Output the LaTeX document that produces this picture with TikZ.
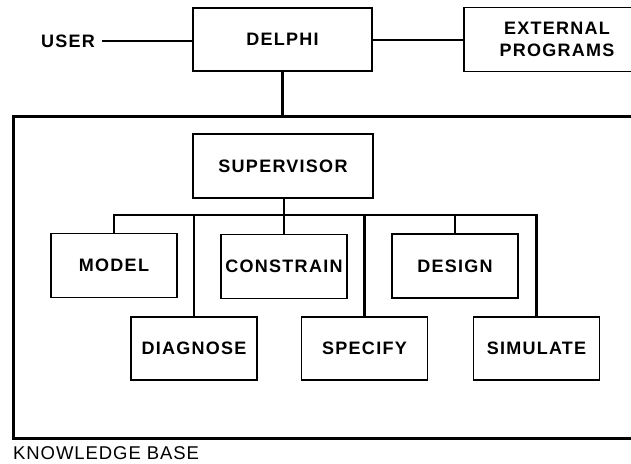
\documentclass[tikz,border=0pt]{standalone}
\usepackage{fontspec}
\usepackage{tikz}
\newfontfamily\boxfont{Liberation Sans}[LetterSpace=7]
\newfontfamily\kbfont{Liberation Sans}[LetterSpace=5]
\tikzset{
    every node/.style={font=\boxfont\bfseries\fontsize{18}{22}\selectfont},
    box/.style={draw, line width=1.4pt, minimum width=126, minimum height=64, inner sep=2pt, align=center},
    conn/.style={line width=2.8pt},
    link/.style={line width=2pt},
    frame/.style={line width=3pt}
}

\begin{document}
\begin{tikzpicture}[x=1pt,y=-1pt]
                \clip (0,0) rectangle (631,463);
                \fill[white] (0,0) rectangle (631,463);

                % Top row
                \node (user) at (68,41) {USER};
                \node[box, minimum width=179, minimum height=63] (delphi) at (282.5,39.5) {DELPHI};
                \node[box, minimum width=186] (external) at (557,39.5) {EXTERNAL\\PROGRAMS};
                \draw[link] ([xshift=4pt]user.east) -- (user.east -| delphi.west);
                \draw[link] (delphi.east |- external.west) -- (external.west);

                % Knowledge base frame
                \coordinate (kbtop) at (282.5,116);
                \draw[frame] (640,116) -- (13,116) -- (13,438) -- (640,438);
                \node[anchor=south west, inner sep=0pt, text depth=0pt, font=\kbfont\fontsize{18.5}{22}\selectfont] (kb) at (13,459.5) {KNOWLEDGE BASE};
                \draw[conn] (delphi.south) -- (kbtop);

                % Supervisor and its modules
                \node[box, minimum width=180] (supervisor) at (283,166) {SUPERVISOR};
                \node[box] (model) at (114,265.5) {MODEL};
                \node[box] (constrain) at (284,266.5) {CONSTRAIN};
                \node[box] (design) at (455,266) {DESIGN};
                \node[box, minimum height=63] (diagnose) at (194,348.5) {DIAGNOSE};
                \node[box, minimum height=63] (specify) at (364.5,348.5) {SPECIFY};
                \node[box, minimum height=63] (simulate) at (536.5,348.5) {SIMULATE};

                % Bus
                \coordinate (bus) at (284,215);
                \draw[conn] (model.north) |- (bus) -| (simulate.north);
                \draw[conn] (supervisor.south -| bus) -- (constrain.north);
                \foreach \m in {diagnose,specify,design} {
                    \draw[conn] (\m.north) -- (\m.north |- bus);
                }
            \end{tikzpicture}
\end{document}
